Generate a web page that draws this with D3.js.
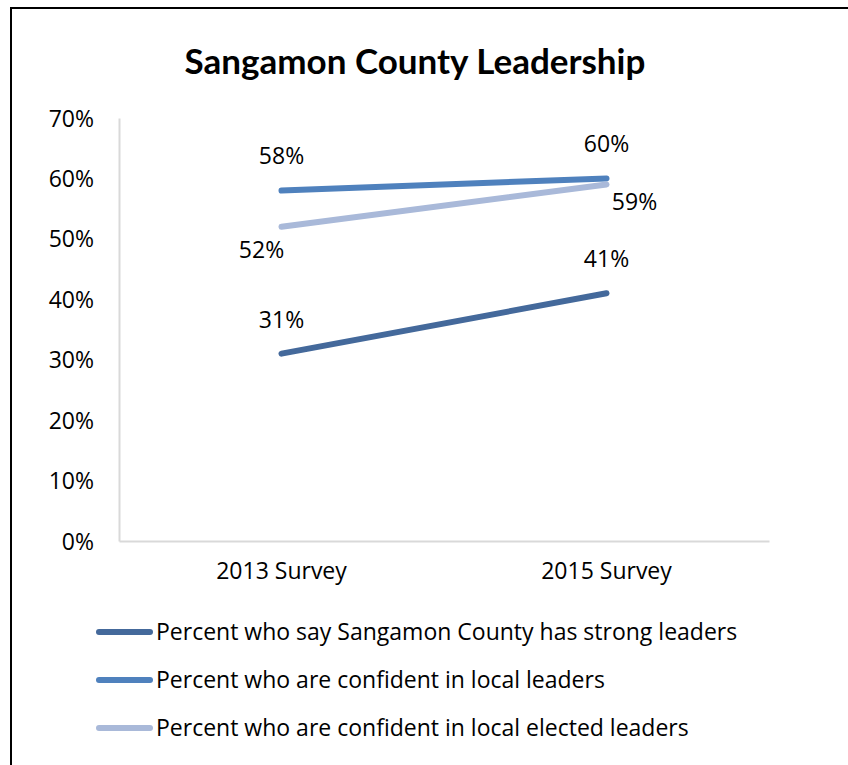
<!DOCTYPE html>
<html>
<head>
<meta charset="utf-8">
<script src="https://cdn.jsdelivr.net/npm/d3@7"></script>
<style>
  body { margin: 0; background: #fff; }
  text { font-family: "Open Sans", Lato, sans-serif; fill: #000; }
  .title { font-family: Lato, "Open Sans", sans-serif; }
</style>
</head>
<body>
<svg id="chart" width="848" height="765"></svg>
<script>
const categories = ['2013 Survey', '2015 Survey'];
const seriesNames = [
  'Percent who say Sangamon County has strong leaders',
  'Percent who are confident in local leaders',
  'Percent who are confident in local elected leaders'
];
const strongLeaders = [0.31, 0.41];
const confidentLocal = [0.58, 0.60];
const confidentElected = [0.52, 0.59];
const yTicks = [0, 0.1, 0.2, 0.3, 0.4, 0.5, 0.6, 0.7];

const colors = ['#44699b', '#4f81bd', '#a9b9d9'];
// label offsets per series [dx, dy] for each point
const labelPos = [
  [[0, -26], [0, -26]],
  [[0, -27], [0, -26]],
  [[-20, 31], [28, 26]]
];

const series = [strongLeaders, confidentLocal, confidentElected].map((v, i) => ({
  name: seriesNames[i], values: v, color: colors[i], labels: labelPos[i]
}));

const svg = d3.select('#chart');
const fs = '23px';

// outer frame
svg.append('rect')
    .attr('x', 11).attr('y', 8)
    .attr('width', 900).attr('height', 800)
    .attr('fill', 'none')
    .attr('stroke', '#000')
    .attr('stroke-width', 2);

svg.append('text')
    .attr('class', 'title')
    .attr('x', 415).attr('y', 74)
    .attr('text-anchor', 'middle')
    .style('font-size', '35px')
    .style('font-weight', 'bold')
    .text('Sangamon County Leadership');

const margin = {left: 119, right: 769, top: 118, bottom: 541};

const x = d3.scaleBand().domain(categories).range([margin.left, margin.right]);
const y = d3.scaleLinear().domain([0, 0.7]).range([margin.bottom, margin.top]);

const yAxis = svg.append('g')
    .attr('transform', `translate(${margin.left},0)`)
    .call(d3.axisLeft(y).tickValues(yTicks).tickFormat(d3.format('.0%')).tickSize(0).tickPadding(25));
yAxis.select('.domain').attr('stroke', '#d9d9d9').attr('stroke-width', 2);
yAxis.selectAll('text').style('font-size', fs).attr('fill', '#000').attr('dy', '0.35em');

const xAxis = svg.append('g')
    .attr('transform', `translate(0,${margin.bottom})`)
    .call(d3.axisBottom(x).tickSize(0).tickPadding(22));
xAxis.select('.domain').attr('stroke', '#d9d9d9').attr('stroke-width', 2);
xAxis.selectAll('text').style('font-size', fs).attr('fill', '#000');

const line = d3.line()
    .x((d, i) => x(categories[i]) + x.bandwidth() / 2)
    .y(d => y(d));

const g = svg.append('g');
g.selectAll('path.series')
  .data(series)
  .join('path')
    .attr('class', 'series')
    .attr('d', d => line(d.values))
    .attr('fill', 'none')
    .attr('stroke', d => d.color)
    .attr('stroke-width', 6)
    .attr('stroke-linecap', 'round');

series.forEach(s => {
  g.selectAll(null)
    .data(s.values)
    .join('text')
      .attr('x', (d, i) => x(categories[i]) + x.bandwidth() / 2 + s.labels[i][0])
      .attr('y', (d, i) => y(d) + s.labels[i][1])
      .attr('text-anchor', 'middle')
      .style('font-size', fs)
      .text(d => d3.format('.0%')(d));
});

// legend
const legend = svg.append('g');
const items = legend.selectAll('g')
  .data(series)
  .join('g')
    .attr('transform', (d, i) => `translate(0,${632 + i * 48})`);
items.append('line')
    .attr('x1', 99).attr('x2', 150)
    .attr('stroke', d => d.color)
    .attr('stroke-width', 6)
    .attr('stroke-linecap', 'round');
items.append('text')
    .attr('x', 156)
    .attr('dy', '0.35em')
    .style('font-size', fs)
    .text(d => d.name);
</script>
</body>
</html>
